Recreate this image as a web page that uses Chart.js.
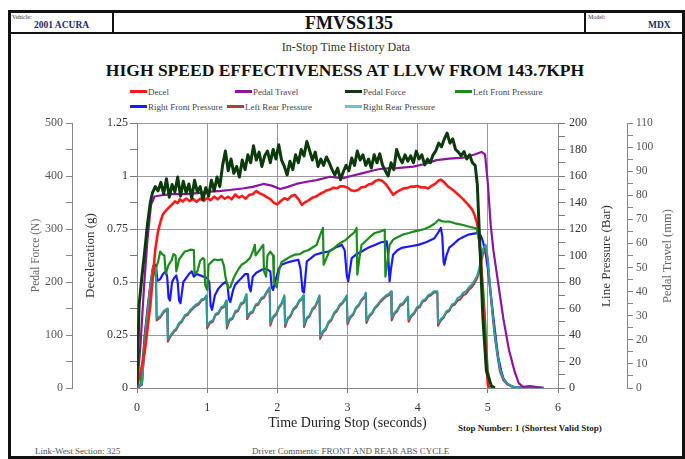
<!DOCTYPE html>
<html><head><meta charset="utf-8">
<script src="https://cdn.jsdelivr.net/npm/chart.js@4.4.1/dist/chart.umd.min.js"></script>
<style>
html,body{margin:0;padding:0;background:#fff;}
body{width:685px;height:459px;position:relative;overflow:hidden;font-family:"Liberation Serif","Times New Roman",serif;color:#222;}
.a{position:absolute;white-space:nowrap;line-height:1;}
#frame{position:absolute;left:8px;top:10px;width:671px;height:443px;border:3px solid #111;}
#hdr{position:absolute;left:11px;top:13px;width:671px;height:19px;border-bottom:2px solid #111;}
.vd{position:absolute;top:13px;width:2px;height:20px;background:#111;}
.tiny{font-size:6px;color:#333;}
.navy{font-size:9.5px;font-weight:bold;color:#1d2a6b;}
.lg{position:absolute;font-size:9px;color:#444;white-space:nowrap;line-height:1;}
.lg i{display:inline-block;width:17px;height:3px;vertical-align:middle;margin-right:1px;position:relative;top:-1px;}
.rt{position:absolute;white-space:nowrap;line-height:1;transform:translate(-50%,-50%) rotate(-90deg);z-index:2;}
canvas{position:absolute;left:0;top:0;}
</style></head>
<body>
<div id="frame"></div>
<div id="hdr"></div>
<div class="vd" style="left:112px"></div>
<div class="vd" style="left:584px"></div>
<div class="a tiny" style="left:12px;top:14px">Vehicle:</div>
<div class="a navy" style="left:34px;top:21px">2001 ACURA</div>
<div class="a" style="left:114px;width:470px;text-align:center;top:14px;font-size:18px;font-weight:bold;color:#111">FMVSS135</div>
<div class="a tiny" style="left:588px;top:14px">Model:</div>
<div class="a navy" style="left:648px;top:21px">MDX</div>
<div class="a" style="left:0;width:692px;text-align:center;top:41px;font-size:12px;color:#333">In-Stop Time History Data</div>
<div class="a" style="left:0;width:690px;text-align:center;top:62px;font-size:17.5px;font-weight:bold;color:#111">HIGH SPEED EFFECTIVENESS AT LLVW FROM 143.7KPH</div>

<div class="lg" style="left:130px;top:88px"><i style="background:#ff1a1a"></i>Decel</div>
<div class="lg" style="left:235px;top:88px"><i style="background:#8b169b"></i>Pedal Travel</div>
<div class="lg" style="left:345px;top:88px"><i style="background:#0b3a0b"></i>Pedal Force</div>
<div class="lg" style="left:455px;top:88px"><i style="background:#1c8c1c"></i>Left Front Pressure</div>
<div class="lg" style="left:130px;top:103px"><i style="background:#1a1aff"></i>Right Front Pressure</div>
<div class="lg" style="left:227px;top:103px"><i style="background:#b03c3c"></i>Left Rear Pressure</div>
<div class="lg" style="left:345px;top:103px"><i style="background:#6cc3c8"></i>Right Rear Pressure</div>

<div class="rt" style="left:605px;top:256px;font-size:13px;color:#333">Line Pressure (Bar)</div>
<div class="rt" style="left:667px;top:256px;font-size:12.5px;color:#666">Pedal Travel (mm)</div>

<div class="a" style="left:458px;top:424px;font-size:9px;font-weight:bold;color:#222">Stop Number: 1 (Shortest Valid Stop)</div>
<div class="a" style="left:35px;top:447px;font-size:9px;color:#555">Link-West Section: 325</div>
<div class="a" style="left:252px;top:447px;font-size:9px;color:#555">Driver Comments: FRONT AND REAR ABS CYCLE</div>

<canvas id="c" width="685" height="459" style="width:685px;height:459px"></canvas>
<script>
// ---- data: [time (s), value] ----
const decel = [[0,0.016],[0.04,0.06],[0.08,0.12],[0.11,0.17],[0.15,0.28],[0.19,0.39],[0.23,0.54],[0.26,0.65],[0.30,0.74],[0.34,0.79],[0.37,0.82],[0.41,0.835],[0.45,0.85],[0.50,0.865],[0.54,0.88],[0.58,0.872],[0.61,0.89],[0.65,0.88],[0.70,0.894],[0.75,0.882],[0.80,0.891],[0.85,0.879],[0.90,0.893],[0.95,0.884],[1.00,0.896],[1.05,0.886],[1.10,0.903],[1.15,0.89],[1.20,0.906],[1.25,0.893],[1.30,0.902],[1.35,0.89],[1.40,0.913],[1.45,0.898],[1.50,0.906],[1.55,0.893],[1.60,0.911],[1.65,0.914],[1.70,0.929],[1.75,0.918],[1.80,0.911],[1.85,0.9],[1.90,0.891],[1.95,0.874],[2.00,0.866],[2.05,0.882],[2.10,0.895],[2.15,0.888],[2.20,0.906],[2.25,0.911],[2.30,0.891],[2.35,0.864],[2.40,0.877],[2.45,0.886],[2.50,0.898],[2.55,0.903],[2.60,0.914],[2.65,0.922],[2.70,0.932],[2.75,0.936],[2.80,0.945],[2.85,0.942],[2.90,0.952],[2.95,0.951],[3.00,0.946],[3.05,0.933],[3.10,0.929],[3.15,0.934],[3.20,0.947],[3.25,0.949],[3.30,0.96],[3.35,0.964],[3.40,0.977],[3.45,0.982],[3.50,0.976],[3.55,0.96],[3.60,0.936],[3.65,0.912],[3.70,0.924],[3.75,0.933],[3.80,0.942],[3.85,0.943],[3.90,0.95],[3.95,0.95],[4.00,0.953],[4.05,0.946],[4.10,0.947],[4.15,0.941],[4.20,0.954],[4.25,0.963],[4.30,0.979],[4.33,0.983],[4.38,0.97],[4.43,0.951],[4.50,0.935],[4.58,0.912],[4.65,0.89],[4.72,0.865],[4.78,0.84],[4.81,0.817],[4.84,0.785],[4.86,0.755],[4.88,0.69],[4.90,0.613],[4.93,0.409],[4.97,0.173],[5.00,0.016],[5.02,0]];

const pedalTravel = [[0,0],[0.05,18],[0.10,42],[0.15,62],[0.20,76],[0.25,79.5],[0.35,80],[0.50,80.5],[0.70,80.5],[0.90,81],[1.04,81.5],[1.20,81.8],[1.32,82.2],[1.50,82.8],[1.65,83.5],[1.80,84.7],[1.92,84],[2.04,82.6],[2.15,83.5],[2.27,84.7],[2.40,85.5],[2.56,86.3],[2.75,87.7],[2.85,87.3],[2.94,87.1],[3.05,88],[3.22,89.2],[3.35,90.2],[3.46,90.9],[3.58,91.2],[3.70,91.3],[3.82,91.6],[3.94,91.9],[4.10,93],[4.27,94.6],[4.45,95.2],[4.65,95.6],[4.80,96.8],[4.91,98],[4.96,97],[5.00,85],[5.04,68],[5.08,57],[5.15,43],[5.22,29],[5.30,16],[5.38,7],[5.44,2],[5.50,0.5],[5.60,0.8],[5.70,0.4],[5.78,0]];

const pedalForce = [[0,6],[0.03,157],[0.07,210],[0.11,258],[0.15,310],[0.19,350],[0.22,368],[0.26,380],[0.30,372],[0.34,388],[0.38,366],[0.42,395],[0.46,360],[0.50,384],[0.54,370],[0.58,398],[0.62,362],[0.66,390],[0.70,368],[0.74,385],[0.78,358],[0.82,392],[0.86,370],[0.90,380],[0.94,355],[0.98,378],[1.02,362],[1.06,392],[1.10,372],[1.14,398],[1.18,380],[1.22,420],[1.26,447],[1.30,410],[1.34,432],[1.38,405],[1.42,418],[1.46,398],[1.50,430],[1.54,412],[1.58,440],[1.62,425],[1.66,457],[1.70,430],[1.74,445],[1.78,418],[1.82,438],[1.86,447],[1.90,425],[1.94,450],[1.98,432],[2.02,459],[2.06,430],[2.10,418],[2.14,402],[2.18,428],[2.22,412],[2.26,440],[2.30,425],[2.34,450],[2.38,438],[2.42,465],[2.46,448],[2.50,430],[2.54,445],[2.58,418],[2.62,432],[2.66,420],[2.70,436],[2.74,425],[2.78,412],[2.82,402],[2.86,415],[2.90,393],[2.94,408],[2.98,420],[3.02,410],[3.06,434],[3.10,420],[3.14,447],[3.18,430],[3.22,440],[3.26,420],[3.30,432],[3.34,415],[3.38,440],[3.42,425],[3.46,442],[3.50,420],[3.54,410],[3.58,400],[3.62,425],[3.66,412],[3.70,450],[3.74,435],[3.78,425],[3.82,440],[3.86,428],[3.90,438],[3.94,425],[3.98,447],[4.02,432],[4.06,440],[4.10,421],[4.14,432],[4.18,425],[4.22,440],[4.26,448],[4.30,462],[4.34,455],[4.38,470],[4.42,481],[4.46,462],[4.50,470],[4.54,450],[4.58,445],[4.62,438],[4.66,446],[4.70,432],[4.74,440],[4.78,425],[4.82,420],[4.85,384],[4.89,258],[4.93,132],[4.98,32],[5.05,4],[5.10,0]];

const leftFront = [[0,0],[0.05,3],[0.11,38],[0.19,75],[0.25,88],[0.30,95],[0.33,103],[0.36,101],[0.39,100],[0.41,86],[0.45,93],[0.49,96],[0.52,101],[0.55,100],[0.56,88],[0.60,97],[0.64,100],[0.68,103],[0.72,103.5],[0.76,104.4],[0.81,104],[0.82,86],[0.86,88],[0.90,96],[0.94,98],[0.96,97],[0.97,78],[1.00,74],[1.02,93],[1.06,95],[1.10,97],[1.15,96.5],[1.21,97],[1.24,92],[1.26,84],[1.30,75.5],[1.33,76],[1.37,82],[1.40,85.5],[1.45,90],[1.49,93],[1.55,95],[1.61,98],[1.65,103],[1.68,108],[1.69,100],[1.73,103],[1.77,106],[1.80,108],[1.81,88],[1.84,84],[1.86,100],[1.90,103],[1.94,100],[1.95,80],[1.99,76],[2.03,90],[2.06,95],[2.12,97],[2.18,99],[2.25,100.6],[2.32,101],[2.38,103],[2.44,104],[2.50,106],[2.56,108],[2.60,114],[2.65,120.8],[2.66,93],[2.70,98],[2.74,103],[2.80,105],[2.86,108],[2.92,110],[2.98,112],[3.04,115],[3.09,117],[3.13,120.8],[3.14,85.5],[3.17,98],[3.20,108],[3.26,111],[3.32,114],[3.39,117],[3.46,118],[3.53,119.5],[3.54,84],[3.57,95],[3.60,108],[3.65,112],[3.72,114],[3.80,116],[3.88,117],[3.94,118],[4.02,119],[4.10,120],[4.17,121.7],[4.24,124],[4.30,127],[4.34,126],[4.40,125.5],[4.46,125.5],[4.55,124],[4.65,123],[4.75,121.5],[4.84,120.5],[4.88,110],[4.91,90.5],[4.94,70],[4.96,52.8],[4.98,30],[5.00,12.6],[5.05,1],[5.10,0]];

const rightFront = [[0,0],[0.07,2.5],[0.11,40],[0.15,60],[0.19,78],[0.23,92],[0.27,93],[0.29,81],[0.33,82],[0.37,86],[0.41,88],[0.43,84],[0.45,68],[0.47,66],[0.50,80],[0.53,83],[0.56,85],[0.58,80],[0.60,66],[0.62,64],[0.66,80],[0.70,83],[0.74,86],[0.78,88],[0.81,84],[0.85,86],[0.90,85],[0.95,84],[1.00,83],[1.03,80],[1.05,62],[1.07,59],[1.11,70],[1.16,75],[1.21,78],[1.26,80],[1.29,78],[1.31,67],[1.33,65],[1.37,74],[1.40,78],[1.45,81],[1.49,83],[1.54,86],[1.58,86],[1.60,76],[1.62,73],[1.65,84],[1.70,87],[1.78,89.3],[1.84,90],[1.90,88],[1.92,76],[1.94,74],[1.97,80.5],[2.02,90],[2.06,93],[2.13,94.5],[2.20,95.6],[2.30,96.8],[2.33,90],[2.36,73],[2.38,72],[2.42,95.6],[2.48,98],[2.54,100.6],[2.63,102],[2.73,103],[2.83,106],[2.92,108],[2.96,104],[2.99,85],[3.01,80.5],[3.06,98],[3.13,101],[3.20,103],[3.30,106],[3.39,108],[3.48,110],[3.56,110.7],[3.58,100],[3.60,80.5],[3.62,90],[3.65,100.6],[3.71,104],[3.77,105.7],[3.90,107],[4.01,108],[4.12,110],[4.24,113],[4.30,118],[4.33,120.8],[4.35,115],[4.37,95],[4.38,93],[4.41,100],[4.45,106],[4.52,109],[4.58,112],[4.65,114],[4.72,115.7],[4.80,116.5],[4.86,117],[4.90,115],[4.93,110.7],[4.97,101],[5.00,90.5],[5.04,72],[5.08,52.8],[5.12,35],[5.15,22.6],[5.19,13],[5.22,7.5],[5.28,3],[5.34,1.3],[5.40,0.5]];

const rightRear = [[0,0],[0.07,3],[0.12,40],[0.19,78],[0.23,91.5],[0.27,90],[0.28,53],[0.33,54],[0.38,58],[0.43,60],[0.44,37],[0.48,40],[0.52,43],[0.56,45],[0.60,49],[0.64,51],[0.68,55],[0.72,56],[0.76,59],[0.80,61],[0.84,63],[0.88,64],[0.92,67],[0.96,67.5],[0.99,70],[1.00,47],[1.04,50],[1.08,51],[1.12,56],[1.16,57],[1.20,61],[1.24,62],[1.27,66],[1.28,47],[1.32,52],[1.36,53],[1.40,58],[1.44,59],[1.48,64],[1.52,65],[1.56,71],[1.57,54],[1.61,57],[1.65,58],[1.69,63],[1.73,64],[1.77,68],[1.81,69],[1.85,73],[1.89,76],[1.90,49],[1.94,54],[1.98,56],[2.02,61],[2.06,64],[2.10,70],[2.11,48],[2.15,53],[2.19,55],[2.23,60],[2.27,62],[2.31,66],[2.35,68],[2.37,70],[2.38,48],[2.42,53],[2.46,55],[2.50,60],[2.54,62],[2.58,67],[2.60,70],[2.61,39],[2.65,43],[2.69,45],[2.73,50],[2.77,52],[2.81,57],[2.85,59],[2.89,63],[2.93,65],[2.97,68],[2.99,70],[3.00,50],[3.04,54],[3.08,56],[3.12,61],[3.16,63],[3.20,67],[3.24,69],[3.26,72],[3.27,51],[3.31,55],[3.35,57],[3.39,61],[3.43,63],[3.47,66],[3.51,68],[3.55,70],[3.59,71],[3.62,73],[3.63,53],[3.67,57],[3.71,59],[3.75,63],[3.79,64],[3.83,67],[3.86,69],[3.87,52],[3.91,55],[3.95,57],[3.99,61],[4.03,62],[4.07,66],[4.11,67],[4.15,70],[4.19,71],[4.23,73],[4.28,73],[4.29,49],[4.33,52],[4.37,54],[4.41,58],[4.45,59],[4.49,63],[4.53,64],[4.57,68],[4.61,69],[4.65,72],[4.69,73],[4.73,76],[4.77,78],[4.81,81],[4.85,85],[4.89,93],[4.93,105],[4.97,108],[5.00,98],[5.03,78],[5.07,55],[5.10,40],[5.14,25],[5.17,15],[5.22,7],[5.27,3.8],[5.35,1],[5.50,0.6],[5.65,0.8],[5.80,0.3]];

const leftRear = [[0,0],[0.07,3],[0.12,39],[0.19,77],[0.23,90.5],[0.27,89],[0.28,51],[0.33,53],[0.38,57],[0.43,59],[0.44,35],[0.48,39],[0.52,42],[0.56,44],[0.60,48],[0.64,50],[0.68,54],[0.72,55],[0.76,58],[0.80,60],[0.84,62],[0.88,63],[0.92,66],[0.96,67],[0.99,69],[1.00,45],[1.04,49],[1.08,50],[1.12,55],[1.16,56],[1.20,60],[1.24,61],[1.27,65],[1.28,45],[1.32,51],[1.36,52],[1.40,57],[1.44,58],[1.48,63],[1.52,64],[1.56,70],[1.57,52],[1.61,56],[1.65,57],[1.69,62],[1.73,63],[1.77,67],[1.81,68],[1.85,72],[1.89,75],[1.90,47],[1.94,53],[1.98,55],[2.02,60],[2.06,63],[2.10,69],[2.11,46],[2.15,52],[2.19,54],[2.23,59],[2.27,61],[2.31,65],[2.35,67],[2.37,69],[2.38,46],[2.42,52],[2.46,54],[2.50,59],[2.54,61],[2.58,66],[2.60,69],[2.61,37],[2.65,42],[2.69,44],[2.73,49],[2.77,51],[2.81,56],[2.85,58],[2.89,62],[2.93,64],[2.97,67],[2.99,69],[3.00,48],[3.04,53],[3.08,55],[3.12,60],[3.16,62],[3.20,66],[3.24,68],[3.26,71],[3.27,49],[3.31,54],[3.35,56],[3.39,60],[3.43,62],[3.47,65],[3.51,67],[3.55,69],[3.59,70],[3.62,72],[3.63,51],[3.67,56],[3.71,58],[3.75,62],[3.79,63],[3.83,66],[3.86,68],[3.87,50],[3.91,54],[3.95,56],[3.99,60],[4.03,61],[4.07,65],[4.11,66],[4.15,69],[4.19,70],[4.23,72],[4.28,72],[4.29,47],[4.33,51],[4.37,53],[4.41,57],[4.45,58],[4.49,62],[4.53,63],[4.57,66],[4.61,67],[4.65,70],[4.69,71],[4.73,74],[4.77,76],[4.81,79],[4.85,83],[4.89,90],[4.93,101],[4.97,105],[5.00,96],[5.03,76],[5.07,53],[5.10,38],[5.14,23],[5.17,13],[5.22,6],[5.27,3],[5.35,0.8],[5.45,0.4]];

const seriesNames = ['Decel','Pedal Travel','Pedal Force','Left Front Pressure','Right Front Pressure','Left Rear Pressure','Right Rear Pressure'];
const xTicks = [0,1,2,3,4,5,6];
const decelTicks = [0,0.25,0.5,0.75,1,1.25];

const F = '"Liberation Serif","Times New Roman",serif';
const pts = a => a.map(p => ({x:p[0], y:p[1]}));
const near = (v, step) => Math.abs(v/step - Math.round(v/step)) < 1e-6;
const font = (s) => ({family:F, size:s});

const ds = (label, data, color, axis, order, w) => ({
  label, data: pts(data), borderColor: color, backgroundColor: color,
  yAxisID: axis, order, borderWidth: w || 2, pointRadius: 0, tension: 0,
  borderJoinStyle: 'round', fill: false
});

new Chart(document.getElementById('c'), {
  type: 'line',
  data: { datasets: [
    ds(seriesNames[0], decel, '#ff1a1a', 'yDecel', 1, 2.6),
    ds(seriesNames[1], pedalTravel, '#8b169b', 'yTravel', 2, 2.2),
    ds(seriesNames[2], pedalForce, '#0b3a0b', 'yForce', 0, 3),
    ds(seriesNames[3], leftFront, '#1c8c1c', 'yPress', 5, 2.2),
    ds(seriesNames[4], rightFront, '#1a1aff', 'yPress', 6, 2.2),
    ds(seriesNames[5], leftRear, '#b03c3c', 'yPress', 4, 2),
    ds(seriesNames[6], rightRear, '#2e9a9c', 'yPress', 3, 2)
  ]},
  options: {
    responsive: false, animation: false, devicePixelRatio: 1,
    layout: { padding: { left: 20, right: 0, top: 123, bottom: 26 } },
    plugins: { legend: { display: false }, tooltip: { enabled: false } },
    scales: {
      x: {
        type: 'linear', min: 0, max: 6,
        afterBuildTicks: s => { s.ticks = xTicks.map(v => ({value: v})); },
        ticks: { font: font(12), color: '#333', padding: 8, autoSkip: false, callback: v => String(v) },
        grid: { color: '#9a9a9a', tickColor: '#777', tickLength: 5, lineWidth: 1 },
        border: { color: '#8a8a8a' },
        title: { display: true, text: 'Time During Stop (seconds)', font: font(14), color: '#222', padding: { top: 0, bottom: 1 } },
        afterFit: s => { s.height = 45; }
      },
      yDecel: {
        position: 'left', weight: 0, min: 0, max: 1.25,
        ticks: { stepSize: 0.125, autoSkip: false, font: font(12), color: '#333', padding: 2,
          callback: v => decelTicks.some(t => Math.abs(t - v) < 1e-6) ? String(v) : '' },
        grid: { color: c => (c.tick && near(c.tick.value, 0.25)) ? '#9a9a9a' : 'rgba(0,0,0,0)', tickColor: '#777', tickLength: 7 },
        border: { color: '#8a8a8a' },
        title: { display: true, text: 'Deceleration (g)', font: font(13), color: '#333', padding: { top: 11, bottom: 0 } },
        afterFit: s => { s.width = 65; }
      },
      yForce: {
        position: 'left', weight: 1, min: 0, max: 500,
        ticks: { stepSize: 50, autoSkip: false, font: font(12), color: '#555', padding: 3,
          callback: v => near(v, 100) ? String(v) : '' },
        grid: { drawOnChartArea: false, tickColor: '#888', tickLength: 6 },
        border: { color: '#888' },
        title: { display: true, text: 'Pedal Force (N)', font: font(11.5), color: '#666', padding: { top: 9, bottom: 0 } },
        afterFit: s => { s.width = 52; }
      },
      yPress: {
        position: 'right', weight: 0, min: 0, max: 200,
        ticks: { stepSize: 10, autoSkip: false, font: font(12), color: '#333', padding: 4,
          callback: v => near(v, 20) ? String(v) : '' },
        grid: { drawOnChartArea: false, tickColor: '#777', tickLength: 7 },
        border: { color: '#8a8a8a' },
        title: { display: false },
        afterFit: s => { s.width = 69; }
      },
      yTravel: {
        position: 'right', weight: 1, min: 0, max: 110,
        ticks: { stepSize: 5, autoSkip: false, font: font(11.5), color: '#555', padding: 3,
          callback: v => near(v, 10) ? String(v) : '' },
        grid: { drawOnChartArea: false, tickColor: '#888', tickLength: 6 },
        border: { color: '#888' },
        title: { display: false },
        afterFit: s => { s.width = 58; }
      }
    }
  }
});
</script>
</body></html>
